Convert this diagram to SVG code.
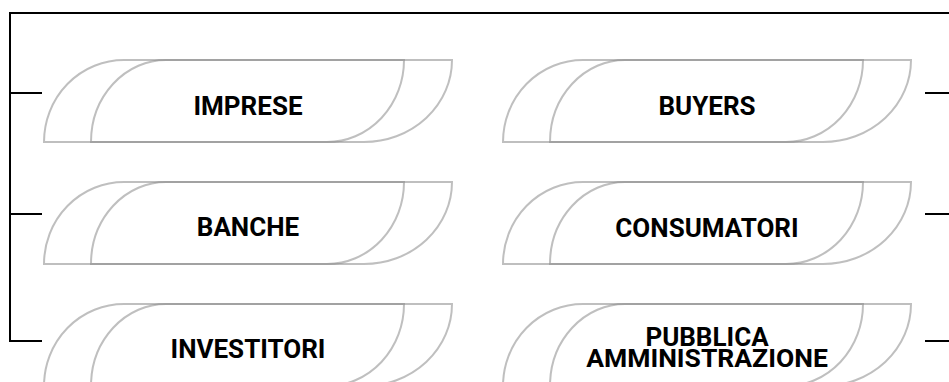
<svg xmlns="http://www.w3.org/2000/svg" width="949" height="382" viewBox="0 0 949 382">
<style>
.frame{fill:none;stroke:#000;stroke-width:2}
.sh{fill:none;stroke:#8a8a8a;stroke-opacity:0.55;stroke-width:2}
.lbl{font-family:Roboto,"Liberation Sans",sans-serif;font-weight:bold;font-size:26px;fill:#000;text-anchor:middle}
</style>
<defs>
<g id="shape">
<path class="sh" d="M44,142 A80,82 0 0 1 124,60 L452,60 A88,82 0 0 1 364,142 Z"/>
<path class="sh" d="M91,142 A75,82 0 0 1 166,60 L404,60 A77,82 0 0 1 327,142 Z"/>
</g>
</defs>
<g id="connectors">
<path class="frame" d="M10,342 L10,13 L949,13"/>
<line class="frame" x1="10" y1="93" x2="42" y2="93"/>
<line class="frame" x1="10" y1="214" x2="42" y2="214"/>
<line class="frame" x1="10" y1="341" x2="42" y2="341"/>
<line class="frame" x1="925" y1="93" x2="949" y2="93"/>
<line class="frame" x1="925" y1="214" x2="949" y2="214"/>
<line class="frame" x1="925" y1="341" x2="949" y2="341"/>
</g>
<g id="imprese"><use href="#shape"/><text class="lbl" x="248" y="115">IMPRESE</text></g>
<g id="banche"><use href="#shape" y="122"/><text class="lbl" x="248" y="236">BANCHE</text></g>
<g id="investitori"><use href="#shape" y="244"/><text class="lbl" x="248" y="358">INVESTITORI</text></g>
<g id="buyers"><use href="#shape" x="459"/><text class="lbl" x="707" y="115">BUYERS</text></g>
<g id="consumatori"><use href="#shape" x="459" y="122"/><text class="lbl" x="707" y="237">CONSUMATORI</text></g>
<g id="pa"><use href="#shape" x="459" y="244"/><text class="lbl" x="707" y="346">PUBBLICA</text><text class="lbl" x="707" y="367" style="font-size:26.5px">AMMINISTRAZIONE</text></g>
</svg>
